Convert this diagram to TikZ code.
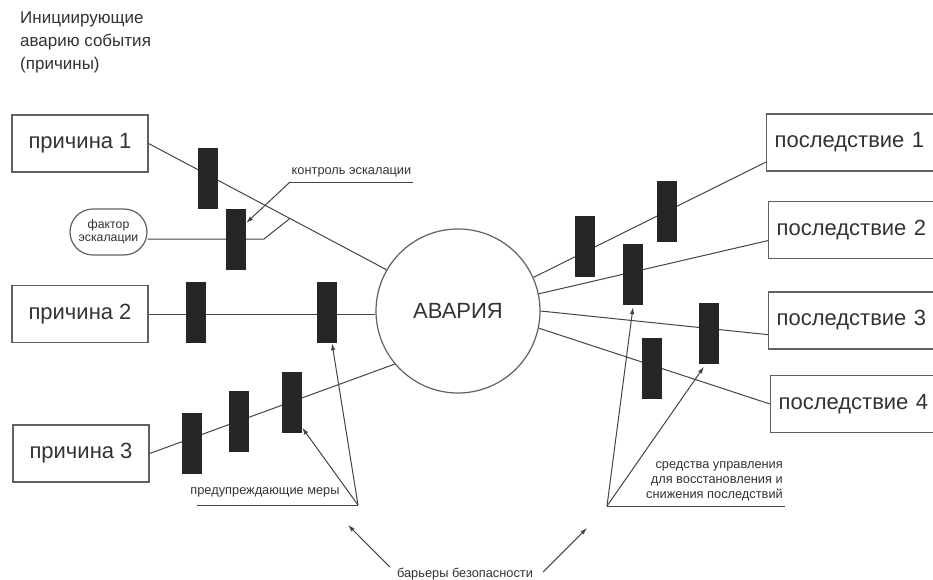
\documentclass[tikz,border=0pt]{standalone}
\usepackage{fontspec}
\setmainfont{Liberation Sans}
\usetikzlibrary{arrows.meta,calc,shapes.misc}
\definecolor{ink}{HTML}{333333}
\definecolor{edge}{HTML}{606060}
\definecolor{barc}{HTML}{262626}
\definecolor{wire}{HTML}{444444}
\tikzset{
  causebox/.style={draw=edge,line width=1.2pt,minimum width=136pt,minimum height=57pt,inner sep=0pt,text=ink,font=\fontsize{22}{24}\selectfont},
  conbox/.style={draw=edge,line width=1.2pt,anchor=west,minimum height=57pt,text width=184pt,inner xsep=8pt,inner ysep=0pt,align=left,text=ink,font=\fontsize{22}{24}\selectfont},
  barrier/.style={fill=barc,draw=none,minimum width=20pt,minimum height=61pt,inner sep=0pt},
  wireline/.style={draw=wire,line width=1pt},
  pointer/.style={draw=wire,line width=1pt,-{Latex[length=7pt,width=4.5pt]}},
  smalltext/.style={text=ink,font=\fontsize{12.8}{15}\selectfont,inner sep=0pt},
}
\begin{document}
\begin{tikzpicture}[x=1pt,y=-1pt]
\useasboundingbox[fill=white] (0,0) rectangle (933,579);

% title
\node[anchor=north west,align=left,text=ink,inner sep=0pt,font=\fontsize{17}{23}\selectfont] (title) at (20,12) {Инициирующие\\аварию события\\(причины)};

% central event
\node[draw=edge,line width=1.2pt,circle,minimum size=164pt,inner sep=0pt,text=ink,font=\fontsize{22}{24}\selectfont] (acc) at (458,311) {АВАРИЯ};

% causes
\node[causebox] (c1) at (80,143.5) {причина 1};
\node[causebox] (c2) at (80,314) {причина 2};
\node[causebox] (c3) at (81,453.5) {причина 3};

% consequences
\node[conbox] (p1) at (766,142.5) {последствие 1};
\node[conbox] (p2) at (768,230) {последствие 2};
\node[conbox] (p3) at (768,320.5) {последствие 3};
\node[conbox] (p4) at (770,404) {последствие 4};

% escalation factor
\node[draw=edge,line width=1.2pt,rounded rectangle,minimum width=77pt,minimum height=46pt,inner sep=0pt,align=center,text=ink,font=\fontsize{12.3}{12.5}\selectfont] (fe) at (108.5,232) {фактор\\эскалации};

% connectors
\draw[wireline] (c1.east) -- (acc.150);
\draw[wireline] (c2.east) -- (c2.east -| acc.west);
\draw[wireline] (c3.east) -- (acc.220);
\draw[wireline] (acc.24) -- (p1.191.6);
\draw[wireline] (acc.12.4) -- (p2.186.7);
\draw[wireline] (acc.0) -- (p3.188);
\draw[wireline] (acc.348.6) -- (p4.west);

\coordinate (j2) at ($(c1.east)!0.594!(acc.150)$);
\coordinate (j1) at (264,239);
\draw[wireline] (fe.east |- j1) -- (j1) -- (j2);

% barriers
\node[barrier] (b1) at (207.5,178.5) {};
\node[barrier] (b2) at (236,239.5) {};
\node[barrier] (b3) at (196,312.5) {};
\node[barrier] (b4) at (327,312.5) {};
\node[barrier] (b5) at (192,443.5) {};
\node[barrier] (b6) at (239,421.5) {};
\node[barrier] (b7) at (292,402) {};
\node[barrier] (r1) at (584.5,246) {};
\node[barrier] (r2) at (667,211.5) {};
\node[barrier] (r3) at (633,274.5) {};
\node[barrier] (r4) at (709,333) {};
\node[barrier] (r5) at (652,368) {};

% escalation control label
\coordinate (k1) at (290,182);
\coordinate (k2) at (413,182);
\node[smalltext] (ctl) at ($(k1)!0.5!(k2)+(0,-9.5)$) {контроль эскалации};
\draw[wireline] (k2) -- (k1);
\draw[pointer] (k1) -- ($(b2.north east)!0.23!(b2.south east)$);

% preventive measures
\coordinate (m1) at (358,505);
\coordinate (u1) at (197,505);
\node[smalltext] (prev) at (265,492) {предупреждающие меры};
\draw[wireline] (u1) -- (m1);
\draw[pointer] (m1) -- ($(b4.south)+(5,0)$);
\draw[pointer] (m1) -- ($(b7.south east)+(0,-5)$);

% recovery measures
\coordinate (m2) at (607,506);
\coordinate (u2) at (785,506);
\node[smalltext,align=right,anchor=south east] (rec) at (783,501) {средства управления\\для восстановления и\\снижения последствий};
\draw[wireline] (m2) -- (u2);
\draw[pointer] (m2) -- ($(r3.south)+(0,2)$);
\draw[pointer] (m2) -- ($(r4.south)+(-5,3)$);

% safety barriers
\node[smalltext] (bb) at (465,574) {барьеры безопасности};
\coordinate (a1) at (348,525);
\coordinate (a2) at (587,528);
\draw[pointer] ($(bb.west)+(-7,-7)$) -- (a1);
\draw[pointer] ($(bb.east)+(10,-2)$) -- (a2);
\end{tikzpicture}
\end{document}
